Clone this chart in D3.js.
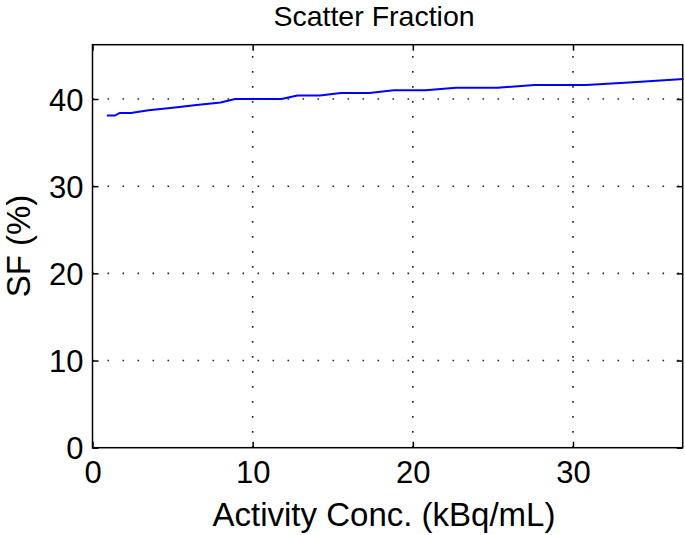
<!DOCTYPE html>
<html><head><meta charset="utf-8">
<script src="https://cdn.jsdelivr.net/npm/d3@7"></script>
<style>body{margin:0;background:#fff}svg{display:block}text{font-family:"Liberation Sans",Arial,Helvetica,sans-serif;fill:#000}</style>
</head><body>
<svg id="c" width="685" height="535"></svg>
<script>
const title = "Scatter Fraction";
const xLabel = "Activity Conc. (kBq/mL)";
const yLabel = "SF (%)";
const xTicks = [0, 10, 20, 30];
const yTicks = [0, 10, 20, 30, 40];
const activity = [0.9, 1.4, 1.7, 2.4, 3.5, 5.0, 6.5, 8.0, 8.9, 11.8, 12.8, 14.2, 15.5, 17.3, 18.8, 20.8, 22.7, 25.3, 27.6, 30.8, 33.5, 36.9];
const sf =       [38.1, 38.1, 38.4, 38.4, 38.7, 39.0, 39.3, 39.6, 40.0, 40.0, 40.4, 40.4, 40.7, 40.7, 41.0, 41.0, 41.3, 41.3, 41.6, 41.6, 41.9, 42.3];

const L = 92.5, R = 682.7, T = 44.7, B = 447.7;
const svg = d3.select("#c");
const x = d3.scaleLinear().domain([0, 36.85]).range([L, R]);
const y = d3.scaleLinear().domain([0, 46.23]).range([B, T]);

// grid
const g = svg.append("g");
g.selectAll(".vg").data(xTicks.filter(d => d > 0)).enter().append("line")
  .attr("x1", d => x(d)).attr("x2", d => x(d)).attr("y1", B).attr("y2", T)
  .attr("stroke", "#222").attr("stroke-width", 1.6).attr("stroke-dasharray", "1.6,13.4");
g.selectAll(".hg").data(yTicks.filter(d => d > 0)).enter().append("line")
  .attr("x1", L).attr("x2", R).attr("y1", d => y(d)).attr("y2", d => y(d))
  .attr("stroke", "#222").attr("stroke-width", 1.6).attr("stroke-dasharray", "1.6,13.4");

// line
svg.append("path").datum(activity.map((a, i) => [a, sf[i]]))
  .attr("fill", "none").attr("stroke", "#0000ff").attr("stroke-width", 2)
  .attr("d", d3.line().x(d => x(d[0])).y(d => y(d[1])));

// axes
const ts = 6;
const ax = svg.append("g").attr("transform", `translate(0,${B})`)
  .call(d3.axisBottom(x).tickValues(xTicks).tickSizeInner(-ts).tickSizeOuter(0).tickPadding(13).tickFormat(d3.format("d")));
const ay = svg.append("g").attr("transform", `translate(${L},0)`)
  .call(d3.axisLeft(y).tickValues(yTicks).tickSizeInner(-ts).tickSizeOuter(0).tickPadding(9).tickFormat(d3.format("d")));
const axT = svg.append("g").attr("transform", `translate(0,${T})`)
  .call(d3.axisTop(x).tickValues(xTicks).tickSizeInner(-ts).tickSizeOuter(0).tickFormat(""));
const ayR = svg.append("g").attr("transform", `translate(${R},0)`)
  .call(d3.axisRight(y).tickValues(yTicks).tickSizeInner(-ts).tickSizeOuter(0).tickFormat(""));
[ax, ay, axT, ayR].forEach(a => {
  a.select(".domain").remove();
  a.selectAll("line").attr("stroke", "#000").attr("stroke-width", 1.5);
  a.selectAll("text").attr("font-size", 31).attr("font-family", '"Liberation Sans",Arial,sans-serif').attr("fill", "#000");
});
ax.selectAll("text").attr("dy", "0.71em");
ay.selectAll("text").attr("dy", "0.36em");

svg.append("rect").attr("x", L).attr("y", T).attr("width", R - L).attr("height", B - T)
  .attr("fill", "none").attr("stroke", "#000").attr("stroke-width", 1.5);

svg.append("text").attr("x", 374).attr("y", 26).attr("text-anchor", "middle").attr("font-size", 28.5).text(title);
svg.append("text").attr("x", 384).attr("y", 526).attr("text-anchor", "middle").attr("font-size", 33).text(xLabel);
svg.append("text").attr("transform", "translate(30,246) rotate(-90)").attr("text-anchor", "middle").attr("font-size", 33).text(yLabel);
</script>
</body></html>
